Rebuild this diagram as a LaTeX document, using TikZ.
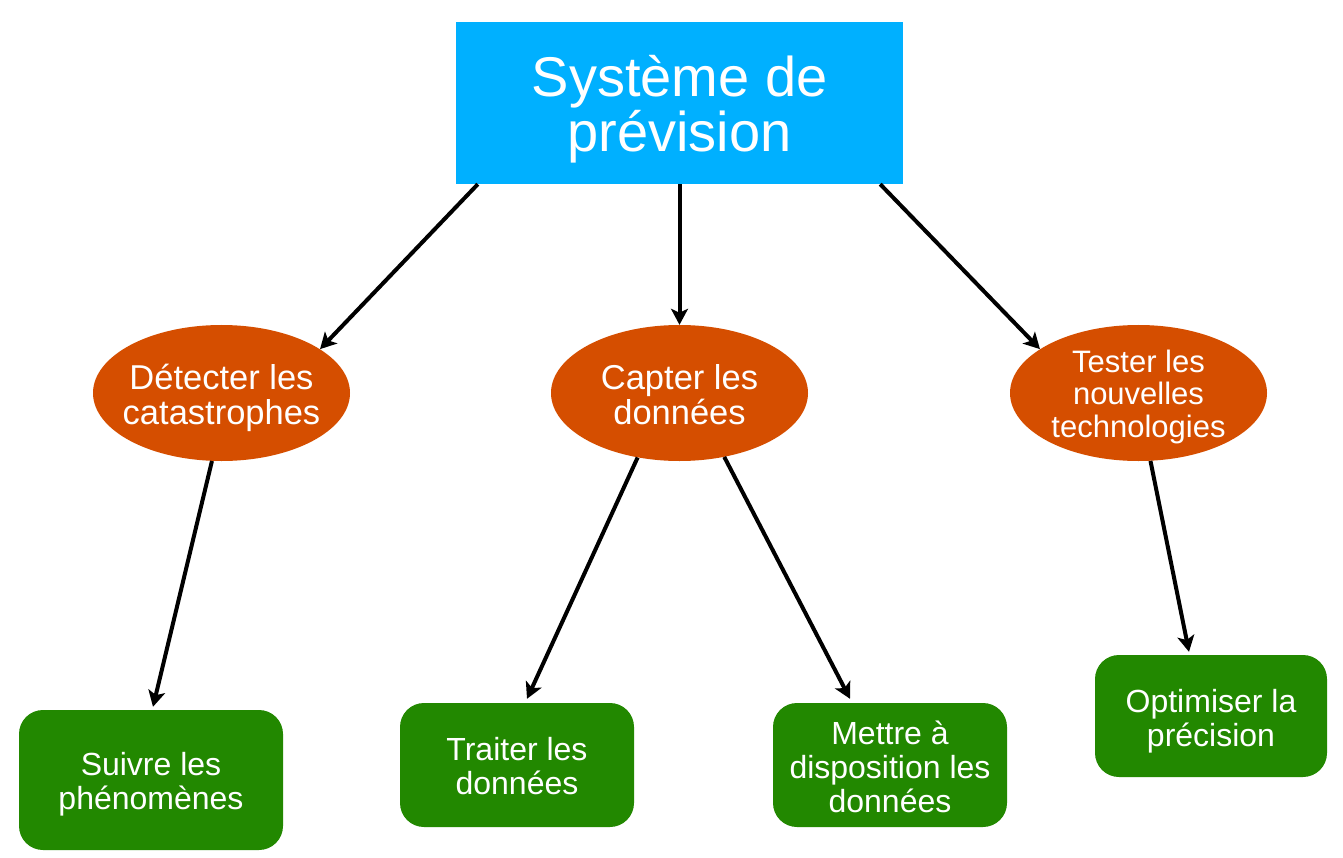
\documentclass[tikz,border=0pt]{standalone}
\usepackage{fontspec}
\setmainfont{Liberation Sans}
\usetikzlibrary{arrows.meta,calc,shapes.geometric}
\definecolor{topblue}{RGB}{0,176,255}
\definecolor{ellorange}{RGB}{213,78,0}
\definecolor{boxgreen}{RGB}{34,136,0}
\tikzset{
  txt/.style={text=white,align=center,inner sep=0pt},
  topbox/.style={fill=topblue,draw=none,minimum width=447pt,minimum height=162pt,inner sep=0pt},
  topfont/.style={txt,font=\fontsize{56}{55}\selectfont},
  ellnode/.style={ellipse,fill=ellorange,draw=none,minimum width=257pt,minimum height=136pt,inner sep=0pt},
  ellfont/.style={txt,font=\fontsize{34.5}{35}\selectfont},
  ellsmall/.style={txt,font=\fontsize{31}{32.5}\selectfont},
  greenbox/.style={rounded corners=24pt,fill=boxgreen,draw=none,inner sep=0pt},
  greenfont/.style={txt,font=\fontsize{32}{34}\selectfont},
  conn/.style={draw=black,line width=4pt,-{Stealth[length=16pt,width=17pt,inset=4pt]}}
}
\begin{document}
\begin{tikzpicture}[x=1pt,y=-1pt]
\useasboundingbox (0,0) rectangle (1343,858);
\node[topbox,label={[topfont,yshift=-6pt]center:Système de\\prévision}] (top) at (679.5,103) {};
\node[ellnode,label={[ellfont,yshift=-4.5pt]center:Détecter les\\catastrophes}] (e1) at (221.5,393) {};
\node[ellnode,label={[ellfont,yshift=-1.5pt]center:Capter les\\données}] (e2) at (679.5,393) {};
\node[ellnode,label={[ellsmall,yshift=-3.5pt]center:Tester les\\nouvelles\\technologies}] (e3) at (1138.5,393) {};
\node[greenbox,minimum width=264pt,minimum height=140pt,label={[greenfont,yshift=-4pt]center:Suivre les\\phénomènes}] (b1) at (151,780) {};
\node[greenbox,minimum width=234pt,minimum height=124pt,label={[greenfont,yshift=-1.5pt]center:Traiter les\\données}] (b2) at (517,765) {};
\node[greenbox,minimum width=234pt,minimum height=124pt,label={[greenfont,yshift=-1.5pt]center:Mettre à\\disposition les\\données}] (b3) at (890,765) {};
\node[greenbox,minimum width=232pt,minimum height=122pt,label={[greenfont,yshift=-5pt]center:Optimiser la\\précision}] (b4) at (1211,716) {};
\draw[conn] ($(top.south west)+(22,0)$) -- (e1.24);
\draw[conn] (top.south) -- (e2.north);
\draw[conn] ($(top.south east)+(-23,0)$) -- (e3.156);
\draw[conn] (e1.262) -- ($(b1.north)+(2,-3)$);
\draw[conn] (e2.237) -- ($(b2.north)+(10,-4)$);
\draw[conn] (e2.305) -- ($(b3.north)+(-40,-4)$);
\draw[conn] (e3.280) -- ($(b4.north)+(-22,-3)$);
\end{tikzpicture}
\end{document}
